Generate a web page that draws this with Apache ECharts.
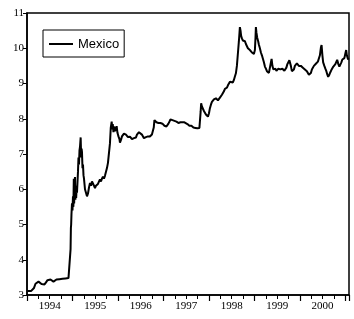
<!DOCTYPE html>
<html>
<head>
<meta charset="utf-8">
<script src="https://cdn.jsdelivr.net/npm/echarts@6/dist/echarts.min.js"></script>
<style>
  html, body { margin: 0; padding: 0; background: #fff; }
  #chart { width: 354px; height: 319px; }
</style>
</head>
<body>
<div id="chart"></div>
<script>
// peso / dollar rate (decimal years)
var years = [
  1994.011, 1994.044, 1994.088, 1994.121, 1994.154, 1994.187, 1994.220, 1994.253, 1994.286, 1994.319,
  1994.352, 1994.385, 1994.418, 1994.451, 1994.484, 1994.516, 1994.549, 1994.582, 1994.615, 1994.648,
  1994.681, 1994.714, 1994.747, 1994.780, 1994.813, 1994.846, 1994.879, 1994.912, 1994.934, 1994.952,
  1994.958, 1994.965, 1994.971, 1994.978, 1994.989, 1995.000, 1995.011, 1995.020, 1995.029, 1995.037,
  1995.046, 1995.055, 1995.064, 1995.073, 1995.081, 1995.090, 1995.099, 1995.110, 1995.121, 1995.132,
  1995.143, 1995.154, 1995.165, 1995.180, 1995.191, 1995.200, 1995.209, 1995.220, 1995.231, 1995.242,
  1995.253, 1995.275, 1995.297, 1995.319, 1995.341, 1995.363, 1995.385, 1995.407, 1995.429, 1995.451,
  1995.473, 1995.495, 1995.516, 1995.538, 1995.560, 1995.582, 1995.604, 1995.626, 1995.648, 1995.670,
  1995.692, 1995.714, 1995.736, 1995.758, 1995.780, 1995.802, 1995.824, 1995.842, 1995.862, 1995.875,
  1995.886, 1995.901, 1995.916, 1995.934, 1995.956, 1995.971, 1995.989, 1996.011, 1996.033, 1996.044,
  1996.066, 1996.088, 1996.110, 1996.132, 1996.154, 1996.176, 1996.198, 1996.220, 1996.242, 1996.264,
  1996.286, 1996.308, 1996.330, 1996.352, 1996.374, 1996.396, 1996.418, 1996.440, 1996.462, 1996.484,
  1996.505, 1996.527, 1996.549, 1996.571, 1996.593, 1996.615, 1996.637, 1996.659, 1996.681, 1996.703,
  1996.725, 1996.747, 1996.769, 1996.787, 1996.802, 1996.824, 1996.846, 1996.868, 1996.890, 1996.912,
  1996.934, 1996.956, 1996.978, 1997.000, 1997.022, 1997.044, 1997.066, 1997.088, 1997.110, 1997.132,
  1997.154, 1997.176, 1997.198, 1997.220, 1997.242, 1997.264, 1997.286, 1997.308, 1997.330, 1997.352,
  1997.374, 1997.396, 1997.418, 1997.440, 1997.462, 1997.484, 1997.505, 1997.527, 1997.549, 1997.571,
  1997.593, 1997.615, 1997.637, 1997.659, 1997.681, 1997.703, 1997.725, 1997.747, 1997.769, 1997.791,
  1997.809, 1997.818, 1997.829, 1997.846, 1997.868, 1997.890, 1997.912, 1997.934, 1997.956, 1997.978,
  1998.000, 1998.022, 1998.044, 1998.066, 1998.088, 1998.110, 1998.132, 1998.154, 1998.176, 1998.198,
  1998.220, 1998.242, 1998.264, 1998.286, 1998.308, 1998.330, 1998.352, 1998.374, 1998.396, 1998.418,
  1998.440, 1998.462, 1998.484, 1998.505, 1998.527, 1998.549, 1998.571, 1998.593, 1998.615, 1998.637,
  1998.659, 1998.673, 1998.681, 1998.695, 1998.708, 1998.725, 1998.747, 1998.769, 1998.791, 1998.813,
  1998.835, 1998.857, 1998.879, 1998.901, 1998.923, 1998.945, 1998.967, 1998.989, 1999.011, 1999.024,
  1999.033, 1999.044, 1999.062, 1999.084, 1999.099, 1999.121, 1999.143, 1999.165, 1999.187, 1999.209,
  1999.231, 1999.253, 1999.275, 1999.297, 1999.319, 1999.341, 1999.363, 1999.378, 1999.396, 1999.418,
  1999.440, 1999.462, 1999.484, 1999.505, 1999.527, 1999.549, 1999.571, 1999.593, 1999.615, 1999.637,
  1999.659, 1999.681, 1999.703, 1999.725, 1999.747, 1999.769, 1999.780, 1999.802, 1999.824, 1999.846,
  1999.868, 1999.890, 1999.912, 1999.934, 1999.956, 1999.978, 2000.000, 2000.022, 2000.044, 2000.066,
  2000.088, 2000.110, 2000.132, 2000.154, 2000.176, 2000.198, 2000.220, 2000.242, 2000.264, 2000.286,
  2000.308, 2000.330, 2000.352, 2000.374, 2000.396, 2000.418, 2000.440, 2000.462, 2000.477, 2000.495,
  2000.512, 2000.538, 2000.560, 2000.582, 2000.604, 2000.622, 2000.648, 2000.670, 2000.692, 2000.714,
  2000.736, 2000.758, 2000.780, 2000.802, 2000.820, 2000.846, 2000.868, 2000.890, 2000.912, 2000.934,
  2000.952, 2000.978, 2001.000, 2001.018, 2001.033, 2001.055, 2001.077
];
var pesos = [
  3.11, 3.10, 3.11, 3.12, 3.20, 3.32, 3.37, 3.38, 3.36, 3.31,
  3.33, 3.30, 3.36, 3.42, 3.40, 3.44, 3.41, 3.38, 3.40, 3.44,
  3.42, 3.45, 3.43, 3.46, 3.45, 3.47, 3.46, 3.48, 3.47, 3.48,
  4.30, 4.90, 5.00, 5.30, 5.60, 5.40, 5.80, 5.50, 6.30, 5.60,
  6.00, 6.35, 5.70, 6.10, 5.75, 6.00, 5.90, 6.20, 6.50, 6.90,
  6.70, 7.10, 7.20, 7.47, 6.90, 7.15, 7.05, 6.60, 6.70, 6.40,
  6.30, 6.00, 5.90, 5.80, 5.88, 6.05, 6.18, 6.10, 6.22, 6.26,
  6.10, 6.03, 6.10, 6.08, 6.15, 6.20, 6.28, 6.22, 6.30, 6.36,
  6.30, 6.38, 6.42, 6.60, 6.75, 6.80, 7.30, 7.75, 7.92, 7.70,
  7.85, 7.62, 7.78, 7.65, 7.72, 7.79, 7.60, 7.50, 7.42, 7.32,
  7.40, 7.50, 7.55, 7.58, 7.60, 7.55, 7.52, 7.48, 7.50, 7.49,
  7.45, 7.42, 7.40, 7.45, 7.50, 7.47, 7.55, 7.60, 7.62, 7.63,
  7.58, 7.55, 7.50, 7.45, 7.50, 7.48, 7.47, 7.50, 7.52, 7.50,
  7.55, 7.55, 7.56, 7.75, 7.96, 7.93, 7.90, 7.92, 7.88, 7.86,
  7.88, 7.85, 7.86, 7.82, 7.80, 7.82, 7.78, 7.80, 7.86, 7.92,
  7.98, 8.01, 7.96, 7.92, 7.94, 7.90, 7.92, 7.90, 7.88, 7.92,
  7.90, 7.87, 7.90, 7.88, 7.90, 7.92, 7.88, 7.85, 7.82, 7.80,
  7.78, 7.80, 7.77, 7.75, 7.77, 7.74, 7.76, 7.73, 7.72, 7.74,
  7.75, 8.20, 8.44, 8.35, 8.30, 8.22, 8.20, 8.12, 8.08, 8.06,
  8.15, 8.30, 8.40, 8.48, 8.52, 8.55, 8.60, 8.58, 8.55, 8.52,
  8.55, 8.60, 8.63, 8.68, 8.72, 8.78, 8.85, 8.90, 8.88, 8.95,
  9.00, 9.05, 9.02, 9.00, 9.03, 9.10, 9.20, 9.29, 9.50, 9.85,
  10.20, 10.45, 10.60, 10.50, 10.35, 10.28, 10.22, 10.25, 10.20, 10.12,
  10.08, 10.00, 9.98, 9.95, 9.92, 9.88, 9.86, 9.84, 9.95, 10.30,
  10.60, 10.45, 10.30, 10.19, 10.10, 10.00, 9.88, 9.80, 9.70, 9.60,
  9.48, 9.42, 9.35, 9.38, 9.30, 9.45, 9.60, 9.70, 9.50, 9.40,
  9.38, 9.42, 9.36, 9.40, 9.42, 9.45, 9.40, 9.38, 9.42, 9.40,
  9.36, 9.40, 9.45, 9.55, 9.60, 9.66, 9.69, 9.50, 9.35, 9.33,
  9.40, 9.50, 9.55, 9.57, 9.52, 9.50, 9.46, 9.50, 9.48, 9.45,
  9.42, 9.40, 9.38, 9.35, 9.30, 9.25, 9.20, 9.30, 9.40, 9.45,
  9.50, 9.53, 9.56, 9.60, 9.62, 9.65, 9.80, 10.02, 10.09, 9.80,
  9.60, 9.50, 9.42, 9.35, 9.25, 9.19, 9.25, 9.32, 9.38, 9.42,
  9.48, 9.50, 9.55, 9.60, 9.67, 9.55, 9.48, 9.50, 9.60, 9.68,
  9.71, 9.72, 9.85, 9.95, 9.80, 9.70, 9.68
];
var seriesName = "Mexico";
var yearLabels = [1994, 1995, 1996, 1997, 1998, 1999, 2000];

var serif = "Liberation Serif";

var points = years.map(function (y, i) {
  return [y, pesos[i]];
});

var myChart = echarts.init(document.getElementById("chart"));

var option = {
  animation: false,
  backgroundColor: "#fff",
  grid: {
    left: 27,
    right: 5,
    top: 13,
    bottom: 24,
    show: true,
    borderColor: "#000",
    borderWidth: 1.5,
  },
  legend: {
    data: [{ name: seriesName, icon: "rect" }],
    left: 43,
    top: 30,
    padding: [7, 5, 6, 6],
    borderColor: "#000",
    borderWidth: 1,
    borderRadius: 0,
    itemWidth: 24,
    itemHeight: 2,
    itemStyle: { color: "#000", borderWidth: 0 },
    textStyle: {
      fontFamily: "Liberation Sans",
      fontSize: 13,
      color: "#000",
      lineHeight: 14,
    },
  },
  xAxis: [
    {
      // quarter ticks + year labels in the middle of each year
      type: "value",
      min: 1994,
      max: 2001.08,
      interval: 0.25,
      position: "bottom",
      splitLine: { show: false },
      axisLine: { show: true, lineStyle: { color: "#000", width: 1.5 } },
      axisTick: { show: true, length: 4, lineStyle: { color: "#000", width: 1 } },
      axisLabel: {
        color: "#000",
        fontFamily: serif,
        fontSize: 11,
        margin: 6,
        showMaxLabel: false,
        formatter: function (v) {
          var y = Math.floor(v);
          if (Math.abs(v - y - 0.5) < 0.01 && yearLabels.indexOf(y) >= 0) {
            return String(y);
          }
          return "";
        },
      },
    },
    {
      // year ticks
      type: "value",
      min: 1994,
      max: 2001.08,
      interval: 1,
      position: "bottom",
      offset: 0,
      splitLine: { show: false },
      axisLine: { show: false },
      axisTick: { show: true, length: 6, lineStyle: { color: "#000", width: 1.2 } },
      axisLabel: { show: false },
    },
  ],
  yAxis: {
    type: "value",
    min: 3,
    max: 11,
    interval: 1,
    splitLine: { show: false },
    axisLine: { show: true, lineStyle: { color: "#000", width: 1.5 } },
    axisTick: { show: true, length: 4, lineStyle: { color: "#000", width: 1 } },
    axisLabel: {
      color: "#000",
      fontFamily: serif,
      fontSize: 11,
      margin: 3,
    },
  },
  series: [
    {
      name: seriesName,
      type: "line",
      xAxisIndex: 0,
      data: points,
      symbol: "none",
      showSymbol: false,
      lineStyle: { color: "#000", width: 2 },
      itemStyle: { color: "#000" },
    },
  ],
};

myChart.setOption(option);
</script>
</body>
</html>
